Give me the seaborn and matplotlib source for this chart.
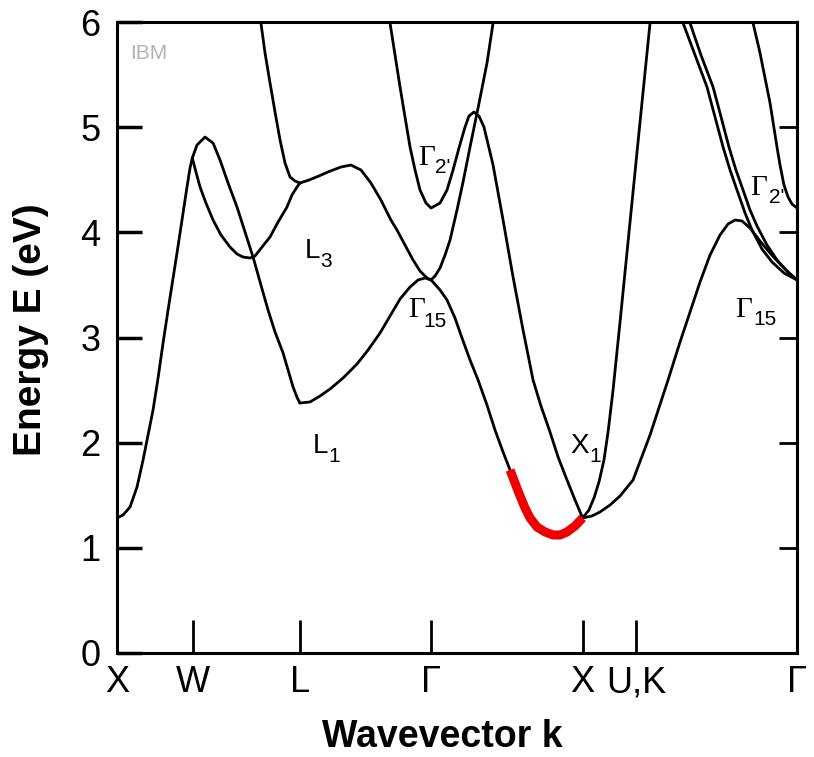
import numpy as np
import matplotlib
matplotlib.use('Agg')
import matplotlib.pyplot as plt
import seaborn as sns

# =========================
# DATA
# =========================

# high symmetry points along the path, k in units of 2pi/a
sym_k = [0.0, 0.5, 1.207, 2.073, 3.073, 3.427, 4.488]
sym_labels = ['X', 'W', 'L', 'Γ', 'X', 'U,K', 'Γ']

e_ticks = [0, 1, 2, 3, 4, 5, 6]

# X -> W, lowest band
b1_k = [0.0, 0.040, 0.086, 0.132, 0.172, 0.205, 0.238, 0.271, 0.304, 0.337, 0.396, 0.429, 0.462, 0.482, 0.497]
b1_e = [1.284, 1.312, 1.388, 1.578, 1.835, 2.073, 2.311, 2.615, 2.948, 3.261, 3.803, 4.117, 4.431, 4.612, 4.707]

# W -> peak -> L1
b2_k = [0.497, 0.528, 0.581, 0.634, 0.680, 0.733, 0.792, 0.845, 0.898, 0.950, 0.997, 1.043, 1.096, 1.129, 1.162, 1.190, 1.207]
b2_e = [4.707, 4.830, 4.906, 4.849, 4.688, 4.469, 4.241, 4.003, 3.765, 3.499, 3.261, 3.052, 2.853, 2.691, 2.529, 2.425, 2.377]

# W -> dip -> L (upper)
b3_k = [0.497, 0.521, 0.548, 0.587, 0.634, 0.686, 0.746, 0.792, 0.832, 0.878, 0.911, 0.957, 1.010, 1.063, 1.122, 1.155, 1.188, 1.207]
b3_e = [4.707, 4.574, 4.431, 4.279, 4.117, 3.975, 3.860, 3.794, 3.765, 3.756, 3.775, 3.860, 3.956, 4.098, 4.241, 4.355, 4.431, 4.469]

# from above 6 eV down to L3
b4_k = [0.941, 0.950, 0.977, 1.010, 1.043, 1.076, 1.109, 1.142, 1.175, 1.207]
b4_e = [6.076, 5.990, 5.705, 5.420, 5.144, 4.878, 4.659, 4.526, 4.488, 4.469]

# L3 -> Gamma15
b5_k = [1.207, 1.267, 1.333, 1.392, 1.478, 1.544, 1.610, 1.676, 1.742, 1.808, 1.848, 1.901, 1.954, 2.000, 2.046, 2.073]
b5_e = [4.469, 4.497, 4.536, 4.574, 4.621, 4.640, 4.593, 4.469, 4.307, 4.117, 4.022, 3.879, 3.737, 3.632, 3.566, 3.547]

# L1 -> Gamma15
b6_k = [1.207, 1.274, 1.340, 1.406, 1.492, 1.584, 1.657, 1.736, 1.802, 1.868, 1.934, 1.987, 2.033, 2.073]
b6_e = [2.377, 2.387, 2.444, 2.510, 2.615, 2.748, 2.881, 3.043, 3.204, 3.366, 3.480, 3.547, 3.566, 3.547]

# Gamma2' band, from the top down to Gamma and on to X1
b7_k = [1.795, 1.802, 1.835, 1.868, 1.901, 1.934, 1.967, 2.000, 2.039, 2.073, 2.132, 2.178, 2.218, 2.257,
        2.297, 2.323, 2.356, 2.389, 2.422, 2.482, 2.548, 2.614, 2.680, 2.746, 2.798, 2.858, 2.911, 2.970, 3.023, 3.073]
b7_e = [6.076, 5.990, 5.686, 5.382, 5.096, 4.811, 4.593, 4.402, 4.279, 4.231, 4.279, 4.402, 4.593, 4.802,
        5.001, 5.106, 5.144, 5.106, 5.001, 4.640, 4.117, 3.575, 3.071, 2.596, 2.349, 2.101, 1.864, 1.645, 1.455, 1.284]

# Gamma15 going up
b8_k = [2.073, 2.099, 2.132, 2.165, 2.198, 2.244, 2.284, 2.330, 2.383, 2.442, 2.482, 2.491]
b8_e = [3.547, 3.585, 3.661, 3.784, 3.927, 4.212, 4.479, 4.811, 5.182, 5.610, 5.990, 6.076]

# Gamma15 going down (Delta1), black part
b9_k = [2.073, 2.132, 2.178, 2.231, 2.277, 2.330, 2.383, 2.442, 2.495, 2.548, 2.594]
b9_e = [3.547, 3.452, 3.357, 3.185, 2.995, 2.786, 2.596, 2.358, 2.120, 1.911, 1.740]

# conduction band minimum, red part
red_k = [2.594, 2.627, 2.660, 2.693, 2.726, 2.772, 2.825, 2.878, 2.924, 2.970, 3.023, 3.073]
red_e = [1.740, 1.616, 1.493, 1.379, 1.284, 1.198, 1.151, 1.122, 1.122, 1.151, 1.208, 1.284]

# X1 -> steep up
b10_k = [3.073, 3.115, 3.148, 3.181, 3.214, 3.241, 3.274, 3.320, 3.386, 3.452, 3.518, 3.524]
b10_e = [1.284, 1.360, 1.474, 1.626, 1.835, 2.101, 2.501, 3.147, 4.098, 5.049, 5.990, 6.076]

# X1 -> U,K -> peak -> Gamma15
b11_k = [3.073, 3.135, 3.188, 3.254, 3.320, 3.406, 3.518, 3.637, 3.716, 3.782, 3.848, 3.914,
         3.980, 4.033, 4.079, 4.125, 4.178, 4.244, 4.310, 4.376, 4.442, 4.488]
b11_e = [1.284, 1.303, 1.341, 1.407, 1.493, 1.645, 2.073, 2.596, 2.957, 3.242, 3.528, 3.784,
         3.975, 4.079, 4.117, 4.108, 4.041, 3.917, 3.803, 3.699, 3.604, 3.547]

# pair of close bands from the top into Gamma15
b12_k = [3.729, 3.736, 3.815, 3.894, 3.947, 4.000, 4.046, 4.092, 4.145, 4.191, 4.257, 4.323, 4.402, 4.488]
b12_e = [6.076, 5.990, 5.686, 5.382, 5.096, 4.811, 4.593, 4.402, 4.184, 4.022, 3.841, 3.718, 3.613, 3.547]
b13_k = [3.775, 3.782, 3.854, 3.934, 3.987, 4.039, 4.085, 4.132, 4.178, 4.224, 4.290, 4.356, 4.422, 4.488]
b13_e = [6.076, 5.990, 5.686, 5.382, 5.096, 4.811, 4.593, 4.402, 4.212, 4.060, 3.879, 3.737, 3.632, 3.547]

# Gamma2' on the right
b14_k = [4.191, 4.198, 4.244, 4.277, 4.310, 4.356, 4.376, 4.402, 4.429, 4.455, 4.488]
b14_e = [6.076, 5.990, 5.705, 5.467, 5.230, 4.811, 4.640, 4.450, 4.336, 4.269, 4.231]

bands = [(b1_k, b1_e), (b2_k, b2_e), (b3_k, b3_e), (b4_k, b4_e), (b5_k, b5_e),
         (b6_k, b6_e), (b7_k, b7_e), (b8_k, b8_e), (b9_k, b9_e), (b10_k, b10_e),
         (b11_k, b11_e), (b12_k, b12_e), (b13_k, b13_e), (b14_k, b14_e)]

# =========================
# PLOT
# =========================

sns.set_style('ticks')
plt.rcParams['font.family'] = ['Liberation Sans', 'DejaVu Sans']
plt.rcParams['text.color'] = 'black'
plt.rcParams['axes.labelcolor'] = 'black'
plt.rcParams['xtick.color'] = 'black'
plt.rcParams['ytick.color'] = 'black'

fig = plt.figure(figsize=(8.14, 7.57), dpi=100)
ax = fig.add_axes([117 / 814, 1 - 653 / 757, 680 / 814, 631 / 757])

for k, e in bands:
    sns.lineplot(x=k, y=e, sort=False, estimator=None, color='black',
                 linewidth=2.0, solid_joinstyle='round', ax=ax)

sns.lineplot(x=red_k, y=red_e, sort=False, estimator=None, color='#ee0000',
             linewidth=6.5, solid_capstyle='butt', solid_joinstyle='round', ax=ax)

ax.set_xlim(sym_k[0], sym_k[-1])
ax.set_ylim(0, 6)

ax.set_xticks(sym_k)
ax.set_xticklabels(sym_labels)
ax.set_yticks(e_ticks)

ax.tick_params(axis='x', direction='in', length=24, width=2, labelsize=26,
               pad=9, top=False, bottom=True)
ax.tick_params(axis='y', direction='in', length=18, width=2.5, labelsize=26,
               pad=12, left=True, right=False)

sec = ax.secondary_yaxis('right')
sec.set_yticks(e_ticks)
sec.tick_params(direction='in', length=13, width=2, labelright=False)

for side in ['left', 'right', 'top', 'bottom']:
    ax.spines[side].set_linewidth(2.2)
    ax.spines[side].set_color('black')
sec.spines['right'].set_linewidth(2.2)

ax.set_xlabel('Wavevector k', fontsize=27, fontweight='bold')
ax.set_ylabel('Energy E (eV)', fontsize=28, fontweight='bold')
ax.xaxis.set_label_coords(0.478, -0.105)
ax.yaxis.set_label_coords(-0.100, 0.512)

# band labels
sans = 'Liberation Sans'
serif = 'Liberation Serif'
ax.text(1.241, 3.756, 'L', fontsize=20, family=sans)
ax.text(1.340, 3.670, '3', fontsize=15, family=sans)
ax.text(1.294, 1.902, 'L', fontsize=20, family=sans)
ax.text(1.393, 1.816, '1', fontsize=15, family=sans)
ax.text(2.990, 1.902, 'X', fontsize=20, family=sans)
ax.text(3.115, 1.816, '1', fontsize=15, family=sans)

ax.text(1.987, 4.640, 'Γ', fontsize=21, family=serif)
ax.text(2.100, 4.560, "2'", fontsize=15, family=sans)
ax.text(1.921, 3.195, 'Γ', fontsize=21, family=serif)
ax.text(2.020, 3.100, '15', fontsize=15, family=sans)
ax.text(4.178, 4.355, 'Γ', fontsize=21, family=serif)
ax.text(4.300, 4.279, "2'", fontsize=15, family=sans)
ax.text(4.079, 3.195, 'Γ', fontsize=21, family=serif)
ax.text(4.200, 3.119, '15', fontsize=15, family=sans)

ax.text(0.02, 0.965, 'IBM', transform=ax.transAxes, fontsize=15,
        color='#b3b3b3', va='top')

plt.savefig('out.png', dpi=100)
